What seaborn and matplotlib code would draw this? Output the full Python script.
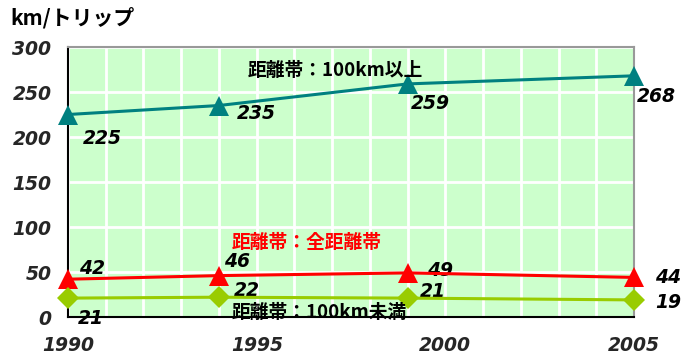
import numpy as np
import pandas as pd
import matplotlib
matplotlib.use("Agg")
import matplotlib.pyplot as plt
from matplotlib.ticker import MultipleLocator
import seaborn as sns

# data
years = [1990, 1994, 1999, 2005]
over100 = [225, 235, 259, 268]
allDist = [42, 46, 49, 44]
under100 = [21, 22, 21, 19]

yTicks = [0, 50, 100, 150, 200, 250, 300]
xTicks = [1990, 1995, 2000, 2005]

sns.set_style("white")
plt.rcParams['font.family'] = ['DejaVu Sans', 'Noto Sans CJK JP']

jpFont = dict(family=['Noto Sans CJK JP', 'DejaVu Sans'], weight='bold')
numFont = dict(family=['DejaVu Sans', 'Noto Sans CJK JP'], weight='bold', style='italic')

fig = plt.figure(figsize=(6.81, 3.54), dpi=100)
ax = fig.add_axes([0.0999, 0.1045, 0.8311, 0.7627])
ax.set_facecolor('#CCFFCC')

df = pd.DataFrame({'year': years, 'over': over100, 'all': allDist, 'under': under100})

sns.lineplot(data=df, x='year', y='over', ax=ax, color='#008080', linewidth=2.2,
             marker='^', markersize=15, markeredgewidth=0, zorder=4, clip_on=False)
sns.lineplot(data=df, x='year', y='all', ax=ax, color='#FF0000', linewidth=2.2,
             marker='^', markersize=15, markeredgewidth=0, zorder=4, clip_on=False)
sns.lineplot(data=df, x='year', y='under', ax=ax, color='#99CC00', linewidth=2.2,
             marker='D', markersize=11, markeredgewidth=0, zorder=4, clip_on=False)

ax.set_xlim(1990, 2005)
ax.set_ylim(0, 300)
ax.set_xticks(xTicks)
ax.xaxis.set_minor_locator(MultipleLocator(1))
ax.set_yticks(yTicks)

ax.grid(True, which='both', axis='x', color='white', linewidth=2)
ax.grid(True, which='major', axis='y', color='white', linewidth=2)
ax.set_axisbelow(True)

ax.tick_params(axis='both', which='both', direction='in', color='black')
ax.tick_params(axis='x', which='major', length=5, pad=14)
ax.tick_params(axis='x', which='minor', length=5)
ax.tick_params(axis='y', which='major', length=5, pad=12)
for lab in ax.get_xticklabels() + ax.get_yticklabels():
    lab.set_fontweight('bold')
    lab.set_fontstyle('italic')
    lab.set_fontsize(13.5)

ax.set_xlabel('')
ax.set_ylabel('')

for side in ['left', 'bottom']:
    ax.spines[side].set_color('black')
    ax.spines[side].set_linewidth(1.5)
for side in ['top', 'right']:
    ax.spines[side].set_color('#999999')
    ax.spines[side].set_linewidth(1.5)

# value labels (offsets in points)
overOff = [(11, -17), (13, -6), (2, -14), (2, -15)]
allOff = [(8, 8), (4, 10), (14, 2), (15, 0)]
underOff = [(7, -15), (11, 5), (9, 5), (15, -2)]
for i, yr in enumerate(years):
    ax.annotate(str(over100[i]), (yr, over100[i]), xytext=overOff[i], textcoords='offset points',
                ha='left', va='center', fontsize=13.5, color='black', annotation_clip=False, **numFont)
    ax.annotate(str(allDist[i]), (yr, allDist[i]), xytext=allOff[i], textcoords='offset points',
                ha='left', va='center', fontsize=13.5, color='black', annotation_clip=False, **numFont)
    ax.annotate(str(under100[i]), (yr, under100[i]), xytext=underOff[i], textcoords='offset points',
                ha='left', va='center', fontsize=13.5, color='black', annotation_clip=False, **numFont)

# series names
fig.text(248 / 681, 1 - 70 / 354, '距離帯：100km以上', ha='left', va='center', fontsize=13.5,
         color='black', **jpFont)
fig.text(232 / 681, 1 - 242 / 354, '距離帯：全距離帯', ha='left', va='center', fontsize=13.5,
         color='#FF0000', **jpFont)
fig.text(232 / 681, 1 - 313 / 354, '距離帯：100km未満', ha='left', va='center', fontsize=13.5,
         color='black', **jpFont)

fig.text(10 / 681, 1 - 18 / 354, 'km/トリップ', ha='left', va='center', fontsize=15,
         color='black', **jpFont)

fig.savefig('out.png', dpi=100)
